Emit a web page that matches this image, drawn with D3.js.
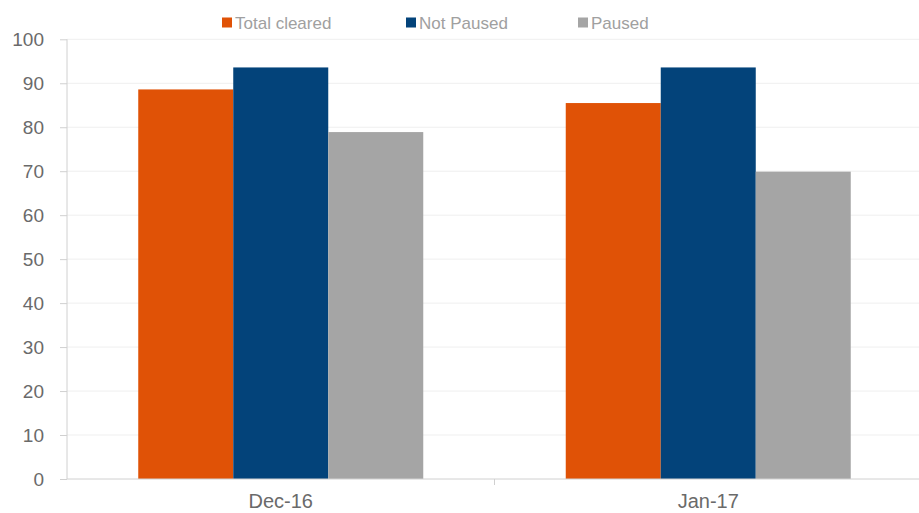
<!DOCTYPE html>
<html><head><meta charset="utf-8">
<script src="https://cdn.jsdelivr.net/npm/d3@7"></script>
<style>body{margin:0;background:#fff;} svg{display:block;font-family:"Liberation Sans",Arial,sans-serif;}</style>
</head><body>
<svg id="c" width="919" height="513"></svg>
<script>
const categories = ["Dec-16", "Jan-17"];
const seriesNames = ["Total cleared", "Not Paused", "Paused"];
const totalCleared = [88.6, 85.5];
const notPaused = [93.6, 93.6];
const paused = [78.9, 69.9];
const yTicks = [0,10,20,30,40,50,60,70,80,90,100];
const colors = ["#E05206", "#03437A", "#A5A5A5"];

const values = [totalCleared, notPaused, paused];
const svg = d3.select("#c");
const m = {left:67, right:-3, top:39.3, bottom:34};
const W = 919, H = 513;
const x0 = d3.scaleBand().domain(categories).range([m.left, W - m.right]).padding(0);
const x1 = d3.scaleBand().domain(seriesNames).range([0, x0.bandwidth()]).paddingOuter(0.75).paddingInner(0);
const y = d3.scaleLinear().domain([0,100]).range([H - m.bottom, m.top]);

// gridlines
svg.append("g").selectAll("line").data(yTicks.filter(d=>d>0)).join("line")
  .attr("x1", m.left).attr("x2", W).attr("y1", d=>y(d)).attr("y2", d=>y(d))
  .attr("stroke", "#efefef").attr("stroke-width", 1);

// bars
categories.forEach((c, ci) => {
  seriesNames.forEach((s, si) => {
    svg.append("rect")
      .attr("x", x0(c) + x1(s)).attr("width", x1.bandwidth())
      .attr("y", y(values[si][ci])).attr("height", y(0) - y(values[si][ci]))
      .attr("fill", colors[si]);
  });
});

// y axis
const ya = svg.append("g").attr("transform", `translate(${m.left},0)`)
  .call(d3.axisLeft(y).tickValues(yTicks).tickSize(7).tickPadding(16));
ya.select(".domain").attr("stroke", "#d0d0d0").attr("d", `M0,${y(100)}V${y(0)}`);
ya.selectAll(".tick line").attr("stroke", "#d0d0d0");
ya.selectAll(".tick text").attr("fill", "#6a6a6a").attr("font-size", "19px");

// x axis
const xa = svg.append("g").attr("transform", `translate(0,${y(0)})`);
xa.append("line").attr("x1", m.left).attr("x2", W).attr("y1", 0).attr("y2", 0).attr("stroke", "#d0d0d0");
xa.selectAll("line.t").data(categories.slice(1)).join("line").attr("class","t")
  .attr("x1", d=>x0(d)).attr("x2", d=>x0(d)).attr("y1", 0).attr("y2", 6).attr("stroke", "#d0d0d0");
xa.selectAll("text").data(categories).join("text")
  .attr("x", d=>x0(d)+x0.bandwidth()/2).attr("y", 29)
  .attr("text-anchor", "middle").attr("fill", "#6a6a6a").attr("font-size", "20px").text(d=>d);

// legend
const legX = [222, 406, 578];
const lg = svg.append("g");
seriesNames.forEach((s, i) => {
  lg.append("rect").attr("x", legX[i]).attr("y", 17.5).attr("width", 10).attr("height", 10).attr("fill", colors[i]);
  lg.append("text").attr("x", legX[i] + 13).attr("y", 28.5).attr("fill", "#a0a0a0").attr("font-size", "17px").text(s);
});
</script>
</body></html>
